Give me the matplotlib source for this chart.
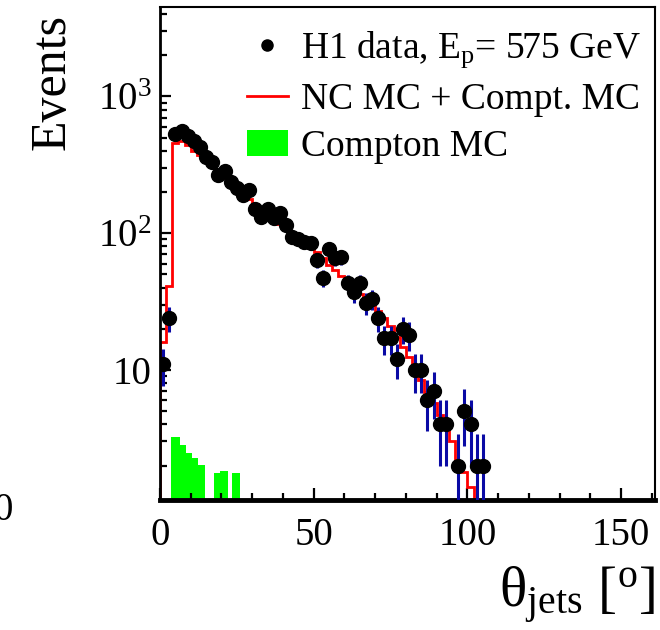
import numpy as np
import matplotlib
matplotlib.use("Agg")
import matplotlib.pyplot as plt
from matplotlib.lines import Line2D
from matplotlib.patches import Patch
from matplotlib.ticker import FixedLocator, MultipleLocator, LogLocator, NullFormatter

plt.rcParams['font.family'] = ['Liberation Serif', 'DejaVu Serif']
plt.rcParams['mathtext.fontset'] = 'custom'
plt.rcParams['mathtext.rm'] = 'Liberation Serif'
plt.rcParams['mathtext.it'] = 'Liberation Serif:italic'

# H1 data, 2 degree bins (centres 1, 3, ..., 105); nan = empty bin
data_counts = [11, 24, 527, 560, 510, 470, 430, 363, 334, 268,
               283, 238, 215, 191, 208, 150, 132, 150, 130, 141,
               115, 94, 90, 86, 85, 64, 47, 76, 66, 67,
               43, 37, 43, 31, 33, 24, 17, 17, 12, 20,
               18, 10, 10, 6, 7, 4, 4, np.nan, 2, 5,
               4, 2, 2]

# NC MC + Compton MC, same 2 degree binning from 0 to 102
mc_counts = [16, 41, 460, 470, 440, 400, 375, 345, 310, 285,
             255, 235, 212, 192, 178, 163, 150, 138, 127, 117,
             108, 99, 92, 85, 78, 73, 66, 59, 54, 49,
             43, 40, 36, 33, 30, 27, 24, 21, 17.5, 14.7,
             12.4, 10.5, 8.4, 6.9, 5.7, 4.7, 3.8, 3.0, 2.1, 1.8,
             1.4]

# Compton MC (filled)
compton_left = [3.5, 6.5, 8.5, 10.5, 12.5, 17.5, 19.5, 23.5]
compton_right = [6.5, 8.5, 10.5, 12.5, 14.5, 19.5, 22.0, 26.0]
compton_counts = [2.74, 2.32, 1.98, 1.77, 1.52, 1.26, 1.32, 1.28]

ytick_vals = [10, 100, 1000]
ytick_labels = ['10', '$10^{2}$', '$10^{3}$']
xtick_vals = [0, 50, 100, 150]

data_x = np.arange(1, 2 * len(data_counts), 2)
mc_edges = np.arange(0, 2 * len(mc_counts) + 1, 2)
data_y = np.array(data_counts, dtype=float)
data_err = np.sqrt(data_y)

fig = plt.figure(figsize=(6.6, 6.3), dpi=100)
ax = fig.add_axes([0.2424, 0.2063, 0.75, 0.7825])

left = np.array(compton_left)
width = np.array(compton_right) - left
ax.bar(left, compton_counts, width=width, align='edge', bottom=0.5,
       color='#00ff00', linewidth=0, zorder=1)

ax.stairs(mc_counts, mc_edges, baseline=0.5, color='#ff0000', linewidth=2.0, zorder=2)

ax.errorbar(data_x, data_y, yerr=data_err, fmt='none', ecolor='#0a0aa5',
            elinewidth=2.2, capsize=0, zorder=3)
ax.plot(data_x, data_y, 'o', color='black', markersize=10, zorder=4)

ax.set_yscale('log')
ax.set_xlim(0, 161)
ax.set_ylim(1.12, 4500)

ax.xaxis.set_major_locator(FixedLocator(xtick_vals))
ax.xaxis.set_minor_locator(MultipleLocator(10))
ax.yaxis.set_major_locator(FixedLocator(ytick_vals))
ax.set_yticklabels(ytick_labels)
ax.yaxis.set_minor_locator(LogLocator(base=10, subs=np.arange(2, 10)))
ax.yaxis.set_minor_formatter(NullFormatter())

ax.tick_params(axis='both', which='both', direction='in', top=False, right=False, labelsize=28)
ax.tick_params(axis='x', which='major', length=9, width=1.6, pad=12)
ax.tick_params(axis='x', which='minor', length=5, width=1.6)
ax.tick_params(axis='y', which='major', length=8, width=1.6, pad=6)
ax.tick_params(axis='y', which='minor', length=5, width=1.6)

ax.spines['bottom'].set_linewidth(3.5)
ax.spines['left'].set_linewidth(2.0)
ax.spines['top'].set_linewidth(1.5)
ax.spines['right'].set_linewidth(1.5)

ax.set_ylabel('Events', fontsize=36, loc='top')
ax.yaxis.set_label_coords(-0.17, 0.985)
ax.set_xlabel('θ$_{\\rm jets}$ [$^{\\rm o}$]', fontsize=41, loc='right', labelpad=8)

handles = [Line2D([], [], marker='o', color='black', linestyle='none', markersize=8),
           Line2D([], [], color='#ff0000', linewidth=2.0),
           Patch(facecolor='#00ff00', edgecolor='none')]
labels = ['H1 data, E$_{\\rm p}$= 575 GeV', 'NC MC + Compt. MC', 'Compton MC']
ax.legend(handles, labels, loc='upper left', bbox_to_anchor=(0.175, 0.955),
          frameon=False, fontsize=27, handlelength=1.1, handletextpad=0.35,
          labelspacing=0.33, borderpad=0, borderaxespad=0)

# clipped label of the neighbouring panel
fig.text(-0.01, 0.175, '0', fontsize=28)

fig.savefig('out.png', dpi=100)
